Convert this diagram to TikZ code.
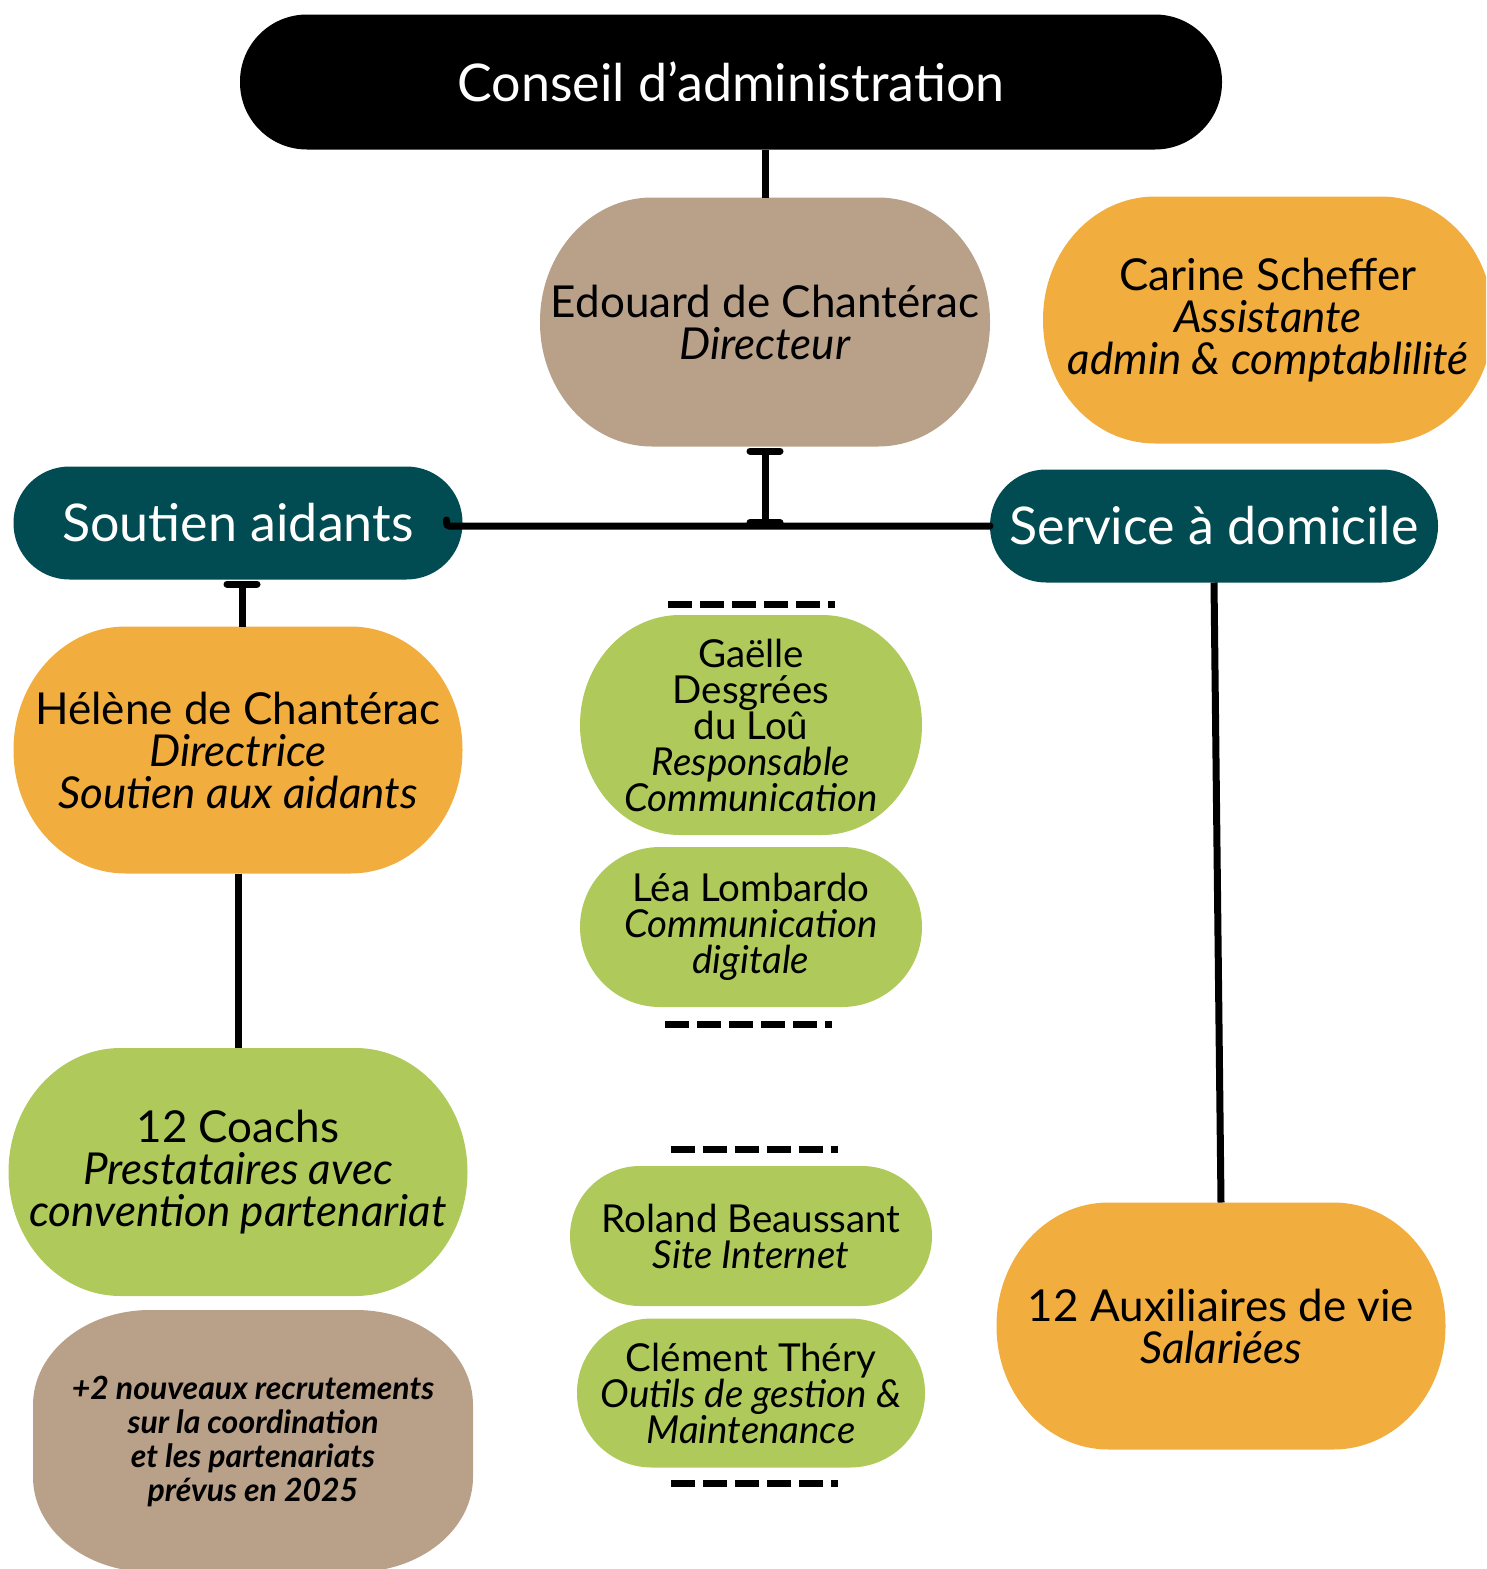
\documentclass[tikz,border=0pt]{standalone}
\usepackage{fontspec}
\setmainfont{Lato}
\usetikzlibrary{arrows.meta,calc}
\definecolor{cblack}{HTML}{000000}
\definecolor{ctan}{HTML}{B8A089}
\definecolor{corange}{HTML}{F2AD3F}
\definecolor{cteal}{HTML}{004C52}
\definecolor{cgreen}{HTML}{AFC95B}
\newcommand\elfill[3]{%
  \fill[#1] ([xshift=#2]path picture bounding box.north west)
   -- ([xshift=-#2]path picture bounding box.north east)
   arc[start angle=90,end angle=0,x radius=#2,y radius=#3]
   -- ([yshift=#3]path picture bounding box.south east)
   arc[start angle=0,end angle=-90,x radius=#2,y radius=#3]
   -- ([xshift=#2]path picture bounding box.south west)
   arc[start angle=270,end angle=180,x radius=#2,y radius=#3]
   -- ([yshift=-#3]path picture bounding box.north west)
   arc[start angle=180,end angle=90,x radius=#2,y radius=#3] -- cycle;}
\tikzset{
  blob/.style args={#1/#2/#3}{rectangle, inner sep=0pt, outer sep=0pt, align=center,
     path picture={\elfill{#1}{#2}{#3}}},
  big/.style={font=\fontsize{52}{56}\selectfont, text=white},
  mid/.style={font=\fontsize{44}{42}\selectfont, text=black},
  small/.style={font=\fontsize{38.5}{36}\selectfont, text=black},
  tiny/.style={font=\fontsize{32}{34}\selectfont\bfseries\itshape, text=black},
  conn/.style={line width=7pt, draw=black},
  tbar/.tip={Bar[width=30pt,round]},
  dash line/.style={line width=7pt, dash pattern=on 24pt off 8pt, line cap=butt},
}
\begin{document}
\begin{tikzpicture}[x=1pt,y=1pt]
\useasboundingbox (0,0) rectangle (1486,-1569);
\clip (0,0) rectangle (1486,-1569);

\node[blob=cblack/67pt/67pt, big, minimum width=982pt, minimum height=135pt] (conseil) at (731,-82) {Conseil d’administration};
\node[blob=ctan/112pt/124pt, mid, minimum width=450pt, minimum height=249pt] (edouard) at (765,-322) {Edouard de Chantérac\\\textit{Directeur}};
\node[blob=corange/112pt/123pt, mid, minimum width=450pt, minimum height=247pt] (carine) at (1268,-320) {Carine Scheffer\\\textit{Assistante}\\\textit{admin \& comptablilité}};
\node[blob=cteal/56pt/56pt, big, minimum width=449pt, minimum height=113pt] (soutien) at (238,-523) {Soutien aidants};
\node[blob=cteal/56pt/56pt, big, minimum width=448pt, minimum height=113pt] (service) at (1214,-526) {Service à domicile};
\node[blob=corange/112pt/123pt, mid, minimum width=449pt, minimum height=247pt] (helene) at (238,-750) {Hélène de Chantérac\\\textit{Directrice}\\\textit{Soutien aux aidants}};
\node[blob=cgreen/112pt/124pt, mid, minimum width=459pt, minimum height=248pt] (coachs) at (238,-1172) {12 Coachs\\\textit{Prestataires avec}\\\textit{convention partenariat}};
\node[blob=ctan/117pt/95pt, tiny, minimum width=440pt, minimum height=262pt] (plus) at (253,-1441) {+2 nouveaux recrutements\\sur la coordination\\et les partenariats\\prévus en 2025};
\node[blob=cgreen/100pt/110pt, small, minimum width=342pt, minimum height=220pt] (gaelle) at (751,-725) {Gaëlle\\Desgrées\\du Loû\\\textit{Responsable}\\\textit{Communication}};
\node[blob=cgreen/80pt/80pt, small, minimum width=342pt, minimum height=160pt] (lea) at (751,-927) {Léa Lombardo\\\textit{Communication}\\\textit{digitale}};
\node[blob=cgreen/70pt/70pt, small, minimum width=362pt, minimum height=140pt] (roland) at (751,-1236) {Roland Beaussant\\\textit{Site Internet}};
\node[blob=cgreen/75pt/74pt, small, minimum width=348pt, minimum height=149pt] (clement) at (751,-1393) {Clément Théry\\\textit{Outils de gestion \&}\\\textit{Maintenance}};
\node[blob=corange/112pt/123pt, mid, minimum width=449pt, minimum height=247pt] (aux) at (1221,-1326) {12 Auxiliaires de vie\\\textit{Salariées}};

% connectors
\draw[conn] (edouard.north) -- (edouard.north |- conseil.south);
\coordinate (hl) at ($(soutien.east)+(-16,-3)$);
\draw[conn, rounded corners=3pt, line cap=round] ($(hl)+(0,6)$) -- (hl) -- (service.west);
\draw[conn, tbar-tbar] ($(edouard.south)+(0,-1)$) -- (edouard.south |- hl);
\coordinate (st) at ($(soutien.south)+(4,-1)$);
\coordinate (sb) at (st |- helene.north);
\draw[conn, tbar-] (st) -- (sb);
\draw[conn] (helene.south) -- (coachs.north);
\draw[conn] (service.south) -- (aux.north);

% dashed separators
\draw[dash line] ($(gaelle.north)+(-83,11)$) -- ++(167,0);
\draw[dash line] ($(lea.south)+(-86,-17)$) -- ++(167,0);
\draw[dash line] ($(roland.north)+(-80,17)$) -- ++(167,0);
\draw[dash line] ($(clement.south)+(-80,-16)$) -- ++(167,0);
\end{tikzpicture}
\end{document}
